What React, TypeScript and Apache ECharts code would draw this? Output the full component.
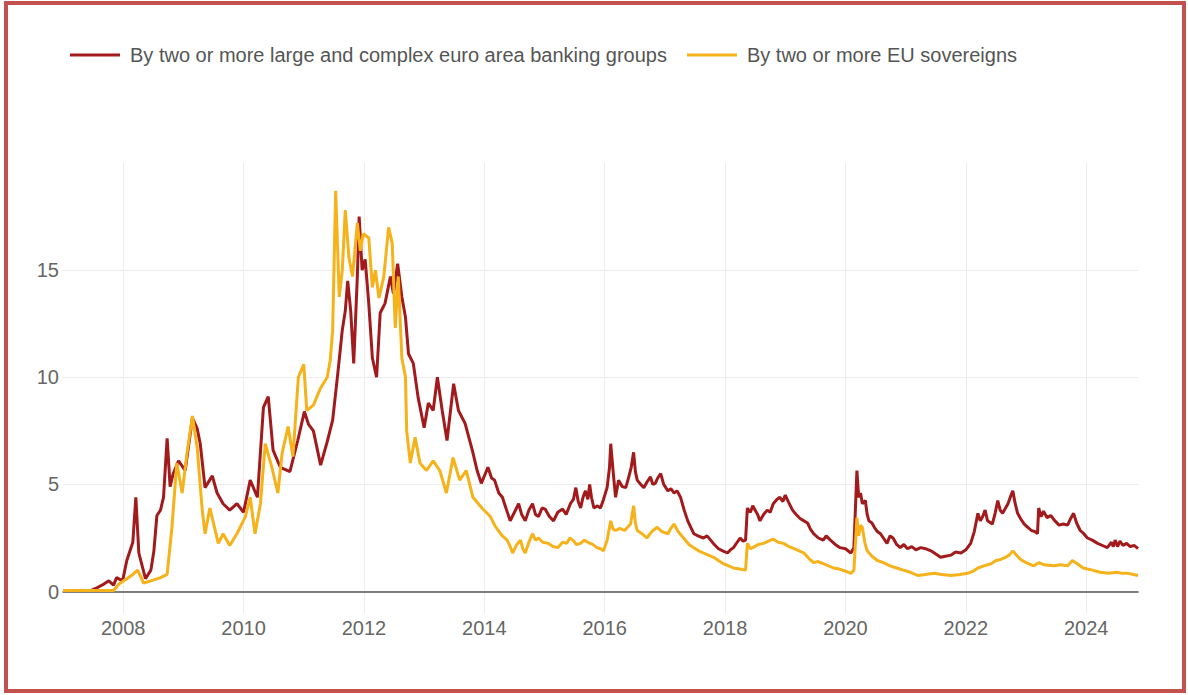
import React, { useEffect, useRef } from "react";
import * as echarts from "echarts";

const seriesNames = [
  "By two or more large and complex euro area banking groups",
  "By two or more EU sovereigns",
];
const seriesColors = ["#a31a1c", "#f5b21a"];

const yearTicks = [2008, 2010, 2012, 2014, 2016, 2018, 2020, 2022, 2024];
const valueTicks = [0, 5, 10, 15];

const bankDates = [
  2007.0, 2007.46, 2007.58, 2007.68, 2007.76, 2007.84, 2007.89, 2007.99, 2008.06, 2008.16,
  2008.21, 2008.26, 2008.37, 2008.46, 2008.51, 2008.56, 2008.62, 2008.67, 2008.73, 2008.78,
  2008.83, 2008.92, 2009.03, 2009.15, 2009.23, 2009.28, 2009.36, 2009.48, 2009.56, 2009.66,
  2009.77, 2009.89, 2010.0, 2010.11, 2010.23, 2010.33, 2010.41, 2010.49, 2010.61, 2010.77,
  2010.9, 2011.01, 2011.08, 2011.16, 2011.28, 2011.39, 2011.48, 2011.57, 2011.64, 2011.69,
  2011.73, 2011.78, 2011.83, 2011.89, 2011.92, 2011.97, 2012.02, 2012.08, 2012.14, 2012.21,
  2012.27, 2012.35, 2012.44, 2012.49, 2012.56, 2012.63, 2012.69, 2012.74, 2012.82, 2012.9,
  2013.0, 2013.07, 2013.15, 2013.22, 2013.3, 2013.38, 2013.49, 2013.57, 2013.68, 2013.8,
  2013.88, 2013.95,
  2014.06, 2014.12, 2014.17, 2014.24, 2014.3, 2014.37, 2014.43, 2014.5, 2014.57, 2014.62,
  2014.68, 2014.74, 2014.8, 2014.85, 2014.9, 2014.96, 2015.01, 2015.08, 2015.15, 2015.22,
  2015.3, 2015.36, 2015.43, 2015.48, 2015.52, 2015.56, 2015.6, 2015.64, 2015.68, 2015.72,
  2015.75, 2015.78, 2015.82, 2015.88, 2015.93, 2015.98, 2016.04, 2016.08, 2016.1, 2016.14,
  2016.18, 2016.23, 2016.29, 2016.35, 2016.4, 2016.44, 2016.48, 2016.51, 2016.54, 2016.6,
  2016.65, 2016.7, 2016.76, 2016.8, 2016.84, 2016.88, 2016.93, 2016.98, 2017.05, 2017.1,
  2017.15, 2017.2, 2017.26, 2017.32, 2017.38, 2017.43, 2017.48, 2017.55, 2017.64, 2017.7,
  2017.76, 2017.82, 2017.89, 2017.96, 2018.04, 2018.09, 2018.14, 2018.2, 2018.25, 2018.3,
  2018.34, 2018.37, 2018.42, 2018.46, 2018.5, 2018.54, 2018.58, 2018.64, 2018.7, 2018.75,
  2018.8, 2018.86, 2018.91, 2018.96, 2019.0, 2019.05, 2019.12, 2019.18, 2019.25, 2019.31,
  2019.37, 2019.42, 2019.47, 2019.55, 2019.63, 2019.68, 2019.75, 2019.83, 2019.91, 2020.0,
  2020.09, 2020.14, 2020.19, 2020.22, 2020.25, 2020.28, 2020.33, 2020.36, 2020.39, 2020.44,
  2020.48, 2020.53, 2020.58, 2020.63, 2020.69, 2020.74, 2020.79, 2020.85, 2020.91, 2020.97,
  2021.03, 2021.1, 2021.17, 2021.25, 2021.33, 2021.42, 2021.5, 2021.58, 2021.66, 2021.75,
  2021.83, 2021.92, 2022.0, 2022.08, 2022.14, 2022.2, 2022.24, 2022.28, 2022.32, 2022.36,
  2022.44, 2022.49, 2022.53, 2022.57, 2022.61, 2022.66, 2022.7, 2022.75, 2022.78, 2022.82,
  2022.86, 2022.91, 2022.97, 2023.03, 2023.09, 2023.15, 2023.19, 2023.21, 2023.25, 2023.29,
  2023.35, 2023.41, 2023.48, 2023.55, 2023.62, 2023.69, 2023.74, 2023.79, 2023.84, 2023.9,
  2023.96, 2024.02, 2024.1, 2024.19, 2024.27, 2024.35, 2024.42, 2024.45, 2024.48, 2024.52,
  2024.56, 2024.61, 2024.67, 2024.73, 2024.8, 2024.86,
];
const bankValues = [
  0.05, 0.05, 0.2, 0.35, 0.5, 0.3, 0.65, 0.5, 1.45, 2.3,
  4.4, 1.8, 0.6, 1.0, 1.9, 3.55, 3.8, 4.4, 7.15, 4.9,
  5.5, 6.1, 5.65, 8.1, 7.6, 6.9, 4.85, 5.4, 4.6, 4.1,
  3.8, 4.1, 3.7, 5.2, 4.4, 8.6, 9.1, 6.6, 5.8, 5.6,
  7.05, 8.4, 7.8, 7.5, 5.9, 7.0, 8.0, 10.3, 12.2, 13.1,
  14.5, 13.1, 10.65, 14.7, 17.5, 15.0, 15.5, 13.45, 10.9, 10.0,
  13.0, 13.45, 14.7, 13.9, 15.3, 13.75, 12.8, 11.1, 10.65, 9.05,
  7.65, 8.8, 8.45, 10.0, 8.45, 7.05, 9.7, 8.45, 7.85, 6.6,
  5.65, 5.05,
  5.8, 5.3, 5.2, 4.6, 4.4, 3.8, 3.3, 3.7, 4.1, 3.6,
  3.3, 3.8, 4.1, 3.6, 3.5, 3.9, 3.85, 3.5, 3.3, 3.7,
  3.85, 3.6, 4.1, 4.3, 4.85, 4.2, 3.9, 4.4, 4.7, 4.3,
  5.0, 4.4, 3.9, 4.0, 3.9, 4.3, 4.85, 5.8, 6.9, 5.6,
  4.4, 5.2, 4.9, 4.85, 5.35, 5.8, 6.5, 5.6, 5.2, 5.0,
  4.85, 5.1, 5.35, 5.0, 5.05, 5.3, 5.5, 5.0, 4.7, 4.8,
  4.6, 4.7, 4.4, 3.8, 3.3, 3.0, 2.7, 2.6, 2.5, 2.6,
  2.4, 2.2, 2.0, 1.9, 1.8, 1.95, 2.05, 2.3, 2.5, 2.35,
  2.4, 3.9, 3.7, 4.0, 3.8, 3.6, 3.3, 3.6, 3.8, 3.7,
  4.1, 4.3, 4.4, 4.2, 4.5, 4.2, 3.8, 3.6, 3.4, 3.3,
  3.2, 2.9, 2.7, 2.5, 2.4, 2.6, 2.4, 2.2, 2.05, 2.0,
  1.8, 2.05, 5.65, 4.4, 4.6, 4.1, 4.25, 3.6, 3.3, 3.2,
  3.0, 2.8, 2.7, 2.5, 2.25, 2.6, 2.5, 2.2, 2.05, 2.2,
  2.0, 2.1, 1.95, 2.05, 2.0, 1.9, 1.75, 1.6, 1.65, 1.7,
  1.85, 1.8, 1.95, 2.25, 2.8, 3.65, 3.3, 3.5, 3.8, 3.3,
  3.15, 3.7, 4.25, 3.8, 3.65, 3.9, 4.1, 4.5, 4.7, 4.1,
  3.65, 3.4, 3.15, 3.0, 2.85, 2.8, 2.7, 3.9, 3.5, 3.75,
  3.45, 3.55, 3.3, 3.1, 3.15, 3.1, 3.4, 3.65, 3.2, 2.85,
  2.7, 2.5, 2.4, 2.25, 2.15, 2.05, 2.3, 2.1, 2.4, 2.1,
  2.35, 2.15, 2.25, 2.1, 2.15, 2.0,
];

const sovDates = [
  2007.0, 2007.84, 2007.93, 2008.06, 2008.16, 2008.24, 2008.34, 2008.46, 2008.62, 2008.73,
  2008.81, 2008.89, 2008.98, 2009.06, 2009.15, 2009.23, 2009.31, 2009.36, 2009.44, 2009.58,
  2009.66, 2009.77, 2009.89, 2010.03, 2010.11, 2010.19, 2010.28, 2010.36, 2010.47, 2010.57,
  2010.64, 2010.74, 2010.82, 2010.91, 2011.0, 2011.05, 2011.16, 2011.28, 2011.39, 2011.44,
  2011.48, 2011.53, 2011.59, 2011.64, 2011.69, 2011.75, 2011.81, 2011.89, 2011.94, 2011.99,
  2012.08, 2012.14, 2012.19, 2012.25, 2012.33, 2012.41, 2012.47, 2012.52, 2012.57, 2012.63,
  2012.69, 2012.71, 2012.77, 2012.85, 2012.93, 2013.04, 2013.15, 2013.26, 2013.37, 2013.48,
  2013.59, 2013.7, 2013.81, 2013.96,
  2014.1, 2014.17, 2014.23, 2014.3, 2014.38, 2014.43, 2014.47, 2014.54, 2014.6, 2014.64,
  2014.68, 2014.74, 2014.8, 2014.85, 2014.9, 2014.97, 2015.06, 2015.14, 2015.22, 2015.3,
  2015.37, 2015.42, 2015.47, 2015.53, 2015.6, 2015.66, 2015.72, 2015.8, 2015.87, 2015.93,
  2015.98, 2016.04, 2016.1, 2016.14, 2016.18, 2016.25, 2016.33, 2016.38, 2016.43, 2016.48,
  2016.51, 2016.54, 2016.62, 2016.7, 2016.78, 2016.87, 2016.95, 2017.05, 2017.1, 2017.15,
  2017.22, 2017.31, 2017.4, 2017.48, 2017.56, 2017.64, 2017.72, 2017.81, 2017.89, 2017.97,
  2018.06, 2018.14, 2018.24, 2018.34, 2018.37, 2018.42, 2018.46, 2018.55, 2018.64, 2018.72,
  2018.8, 2018.88, 2018.97, 2019.06, 2019.15, 2019.23, 2019.31, 2019.39, 2019.47, 2019.55,
  2019.63, 2019.72, 2019.8, 2019.9, 2020.0, 2020.09, 2020.14, 2020.19, 2020.22, 2020.25,
  2020.28, 2020.32, 2020.36, 2020.44, 2020.53, 2020.63, 2020.74, 2020.85, 2020.96, 2021.08,
  2021.2, 2021.33, 2021.47, 2021.6, 2021.75, 2021.9, 2022.03, 2022.12, 2022.2, 2022.3,
  2022.42, 2022.5, 2022.58, 2022.66, 2022.72, 2022.78, 2022.84, 2022.91, 2023.0, 2023.13,
  2023.21, 2023.3, 2023.46, 2023.58, 2023.69, 2023.77, 2023.85, 2023.95, 2024.1, 2024.23,
  2024.37, 2024.51, 2024.6, 2024.7, 2024.78, 2024.86,
];
const sovValues = [
  0.05, 0.05, 0.35, 0.6, 0.8, 1.0, 0.4, 0.5, 0.65, 0.8,
  3.0, 6.0, 4.6, 6.45, 8.2, 6.7, 3.9, 2.7, 3.9, 2.25,
  2.7, 2.15, 2.7, 3.5, 4.4, 2.7, 4.1, 6.9, 5.8, 4.6,
  6.45, 7.7, 6.3, 10.0, 10.6, 8.45, 8.7, 9.5, 10.0, 10.8,
  12.2, 18.7, 13.75, 15.0, 17.8, 15.6, 14.7, 17.2, 15.9, 16.7,
  16.5, 14.2, 15.0, 13.7, 14.7, 17.0, 16.25, 12.3, 14.7, 10.9,
  10.0, 7.5, 6.0, 7.2, 6.0, 5.65, 6.1, 5.65, 4.6, 6.25,
  5.2, 5.65, 4.4, 3.9,
  3.5, 3.1, 2.85, 2.6, 2.4, 2.1, 1.8, 2.2, 2.4, 2.0,
  1.8, 2.3, 2.7, 2.4, 2.5, 2.3, 2.25, 2.1, 2.05, 2.3,
  2.25, 2.5, 2.4, 2.2, 2.25, 2.4, 2.3, 2.2, 2.05, 2.0,
  1.9, 2.4, 3.3, 2.9, 2.85, 2.95, 2.85, 3.0, 3.15, 4.0,
  3.2, 2.85, 2.7, 2.5, 2.8, 3.0, 2.8, 2.7, 2.95, 3.15,
  2.8, 2.5, 2.2, 2.05, 1.9, 1.8, 1.7, 1.6, 1.45, 1.3,
  1.2, 1.1, 1.05, 1.0, 2.25, 2.0, 2.05, 2.2, 2.25, 2.35,
  2.45, 2.3, 2.25, 2.1, 2.0, 1.9, 1.8, 1.55, 1.35, 1.4,
  1.3, 1.2, 1.1, 1.05, 0.95, 0.85, 1.0, 3.45, 2.6, 3.1,
  3.0, 2.3, 1.9, 1.65, 1.45, 1.35, 1.2, 1.1, 1.0, 0.9,
  0.75, 0.8, 0.85, 0.8, 0.75, 0.8, 0.85, 0.95, 1.1, 1.2,
  1.3, 1.45, 1.5, 1.6, 1.7, 1.9, 1.7, 1.5, 1.35, 1.2,
  1.35, 1.25, 1.2, 1.25, 1.2, 1.45, 1.3, 1.1, 1.0, 0.9,
  0.85, 0.9, 0.85, 0.85, 0.8, 0.75,
];

const FONT = "'Liberation Sans', Arial, Helvetica, sans-serif";

export default function App() {
  const ref = useRef<HTMLDivElement>(null);

  useEffect(() => {
    if (!ref.current) return;
    const chart = echarts.init(ref.current, undefined, { renderer: "svg" });
    const bankData = bankDates.map((d, i) => [d, bankValues[i]]);
    const sovData = sovDates.map((d, i) => [d, sovValues[i]]);

    chart.setOption({
      animation: false,
      backgroundColor: "#ffffff",
      textStyle: { fontFamily: FONT },
      color: seriesColors,
      graphic: [
        {
          type: "rect",
          shape: { x: 6, y: 3, width: 1178, height: 688 },
          style: { fill: "none", stroke: "#c4504e", lineWidth: 4 },
          silent: true,
          z: 100,
        },
      ],
      legend: {
        left: 65,
        top: 40,
        icon: "rect",
        itemWidth: 50,
        itemHeight: 3,
        itemGap: 20,
        textStyle: {
          fontFamily: FONT,
          fontSize: 20,
          color: "#555555",
          padding: [0, 0, 0, 5],
        },
        data: seriesNames,
      },
      grid: {
        left: 63,
        right: 50,
        top: 163,
        bottom: 82,
        containLabel: false,
      },
      xAxis: {
        type: "value",
        min: 2007.0,
        max: 2024.86,
        axisLine: { show: true, onZero: true, lineStyle: { color: "#555555", width: 1.5 } },
        axisTick: { show: false, customValues: yearTicks },
        axisLabel: {
          customValues: yearTicks,
          formatter: (v: number) => String(Math.round(v)),
          fontFamily: FONT,
          fontSize: 20,
          color: "#666666",
          margin: 5,
        },
        splitLine: { show: true, lineStyle: { color: "#ececec", width: 1 } },
      },
      yAxis: {
        type: "value",
        min: -1,
        max: 20,
        axisLine: { show: false },
        axisTick: { show: false, customValues: valueTicks },
        axisLabel: {
          customValues: valueTicks,
          fontFamily: FONT,
          fontSize: 20,
          color: "#666666",
          margin: 4,
        },
        splitLine: { show: true, lineStyle: { color: "#ececec", width: 1 } },
      },
      series: [
        {
          name: seriesNames[0],
          type: "line",
          data: bankData,
          showSymbol: false,
          lineStyle: { width: 3, color: seriesColors[0] },
          itemStyle: { color: seriesColors[0] },
        },
        {
          name: seriesNames[1],
          type: "line",
          data: sovData,
          showSymbol: false,
          lineStyle: { width: 3, color: seriesColors[1] },
          itemStyle: { color: seriesColors[1] },
        },
      ],
    });

    return () => chart.dispose();
  }, []);

  return (
    <div
      ref={ref}
      style={{ position: "fixed", left: 0, top: 0, width: 1188, height: 695 }}
    />
  );
}
